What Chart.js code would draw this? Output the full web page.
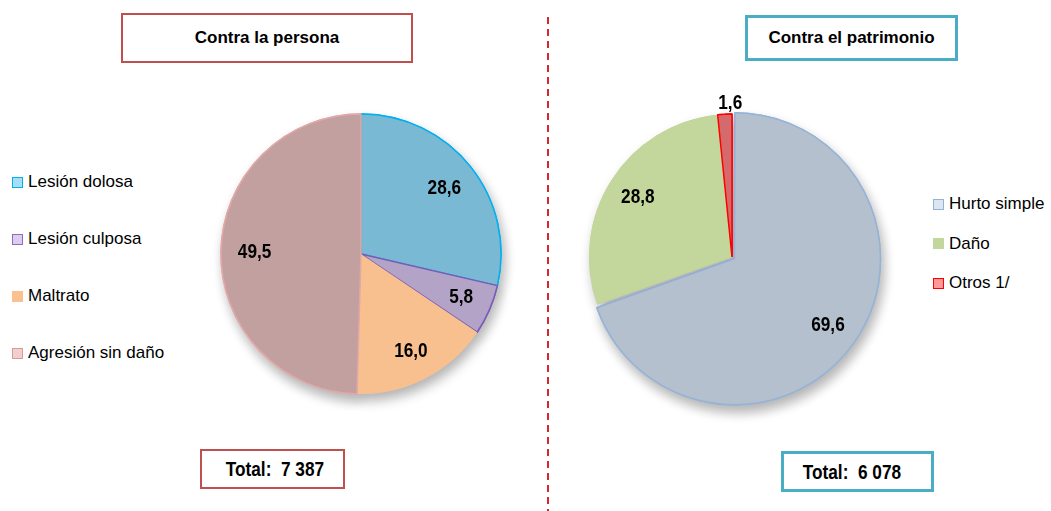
<!DOCTYPE html>
<html>
<head>
<meta charset="utf-8">
<script src="https://cdn.jsdelivr.net/npm/chart.js@4.4.1/dist/chart.umd.min.js"></script>
<style>
  body { margin: 0; width: 1051px; height: 511px; background: #fff; position: relative; overflow: hidden;
         font-family: "Liberation Sans", Arial, sans-serif; color: #000; }
  canvas { position: absolute; }
  .box { position: absolute; box-sizing: border-box; background: #fff; display: flex; align-items: center;
         justify-content: center; font-weight: bold; }
  .title { font-size: 17px; }
  .total { font-size: 21px; white-space: pre; }
  .total span { display: inline-block; transform: scaleX(0.82); }
  .legend { position: absolute; font-size: 17px; }
  .legend div { position: absolute; white-space: nowrap; display: flex; align-items: center; height: 20px; }
  .legend span.mk { display: inline-block; box-sizing: border-box; width: 11px; height: 11px; margin-right: 5px; }
  #divider { position: absolute; left: 547px; top: 17px; width: 2px; height: 494px;
             background: repeating-linear-gradient(to bottom, #d7262e 0 7px, transparent 7px 12px); }
</style>
</head>
<body>
<div class="box title" style="left:121px;top:13px;width:292px;height:50px;border:2px solid #c0504d;">Contra la persona</div>
<div class="box title" style="left:745px;top:15px;width:213px;height:46px;border:3px solid #4bacc6;">Contra el patrimonio</div>
<div class="box total" style="left:200px;top:449px;width:145px;height:40px;border:2px solid #c0504d;"><span id="total1" style="margin-left:4px;"></span></div>
<div class="box total" style="left:781px;top:451px;width:153px;height:41px;border:3px solid #4bacc6;"><span id="total2" style="margin-right:12px;"></span></div>
<div id="divider"></div>
<div class="legend" id="legend1" style="left:12px;top:0;"></div>
<div class="legend" id="legend2" style="left:933px;top:0;"></div>
<canvas id="c1" width="360" height="360" style="left:181px;top:74px;"></canvas>
<canvas id="c2" width="360" height="360" style="left:552px;top:77px;"></canvas>
<script>
// Contra la persona (%)
const personaLabels = ['Lesión dolosa', 'Lesión culposa', 'Maltrato', 'Agresión sin daño'];
const personaValues = [28.6, 5.8, 16.0, 49.5];
const personaTotal = '7 387';

// Contra el patrimonio (%)
const patrimonioLabels = ['Hurto simple', 'Daño', 'Otros 1/'];
const patrimonioValues = [69.6, 28.8, 1.6];
const patrimonioTotal = '6 078';

// slice colours
const personaFill = ['#79b9d3', '#b3a3c6', '#f9c08f', '#c2a0a0'];
const personaBorder = ['#00b0f0', '#7a5cb8', '#f9c08f', '#e3a7a7'];
const personaMarker = ['#a6def3', '#dccdee', '#fac090', '#f2cfce'];
const personaMarkerBorder = ['#00b0f0', '#8e6cc0', null, '#da9a98'];

const patrimonioFill = ['#b5c0ce', '#c3d69b', '#d46a6c'];
const patrimonioBorder = ['#95b3d7', '#c3d69b', '#ff0000'];
const patrimonioMarker = ['#dce6f2', '#c3d69b', '#ff9999'];
const patrimonioMarkerBorder = ['#95b3d7', null, '#ff0000'];

function fmt(v) { return v.toFixed(1).replace('.', ','); }

document.getElementById('total1').textContent = 'Total:  ' + personaTotal;
document.getElementById('total2').textContent = 'Total:  ' + patrimonioTotal;

function buildLegend(id, labels, fills, borders, firstY, step) {
  const el = document.getElementById(id);
  labels.forEach((lab, i) => {
    const row = document.createElement('div');
    row.style.top = (firstY + i * step - 10) + 'px';
    const mk = document.createElement('span');
    mk.className = 'mk';
    mk.style.background = fills[i];
    if (borders[i]) mk.style.border = '1.5px solid ' + borders[i];
    row.appendChild(mk);
    row.appendChild(document.createTextNode(lab));
    el.appendChild(row);
  });
}
buildLegend('legend1', personaLabels, personaMarker, personaMarkerBorder, 182, 57);
buildLegend('legend2', patrimonioLabels, patrimonioMarker, patrimonioMarkerBorder, 204, 39.5);

// shadow under the pie + value labels
const sliceExtras = {
  id: 'sliceExtras',
  beforeDatasetsDraw(chart) {
    const ctx = chart.ctx;
    ctx.save();
    ctx.shadowColor = 'rgba(0,0,0,0.3)';
    ctx.shadowBlur = 12;
    ctx.shadowOffsetX = 3;
    ctx.shadowOffsetY = 7;
    chart.getDatasetMeta(0).data.forEach(a => a.draw(ctx));
    ctx.restore();
  },
  afterDatasetsDraw(chart, args, opts) {
    const ctx = chart.ctx;
    const meta = chart.getDatasetMeta(0);
    const data = chart.data.datasets[0].data;
    ctx.save();
    ctx.font = 'bold 21px "Liberation Sans", sans-serif';
    ctx.textAlign = 'center';
    ctx.textBaseline = 'middle';
    ctx.fillStyle = '#000';
    meta.data.forEach((arc, i) => {
      const p = arc.getProps(['x', 'y', 'startAngle', 'endAngle', 'outerRadius', 'circumference'], true);
      const mid = (p.startAngle + p.endAngle) / 2;
      const off = (arc.options.offset || 0) / 4;
      const fix = 1 - Math.sin(Math.min(Math.PI, p.circumference));
      const r = p.outerRadius * opts.radius[i] + off * (1 + fix);
      ctx.save();
      ctx.translate(p.x + Math.cos(mid) * r + (opts.dx[i] || 0), p.y + Math.sin(mid) * r);
      ctx.scale(0.82, 1);
      ctx.fillText(fmt(data[i]), 0, 0);
      ctx.restore();
    });
    ctx.restore();
  }
};

function pie(id, labels, values, fills, borders, widths, offsets, radius, labelPos, labelDx) {
  return new Chart(document.getElementById(id), {
    type: 'pie',
    data: {
      labels: labels,
      datasets: [{
        data: values,
        backgroundColor: fills,
        borderColor: borders,
        borderWidth: widths,
        offset: offsets,
        radius: radius
      }]
    },
    options: {
      responsive: false,
      animation: false,
      events: [],
      plugins: {
        legend: { display: false },
        tooltip: { enabled: false },
        sliceExtras: { radius: labelPos, dx: labelDx }
      }
    },
    plugins: [sliceExtras]
  });
}

pie('c1', personaLabels, personaValues, personaFill, personaBorder,
    [1.5, 1.5, 0, 1.5], [0, 0, 0, 0], 140, [0.76, 0.78, 0.78, 0.76], [0, 0, 0, 0]);
pie('c2', patrimonioLabels, patrimonioValues, patrimonioFill, patrimonioBorder,
    [1.5, 0, 1.5], [12, 0, 0], 143, [0.78, 0.78, 1.08], [0, 0, 6]);
</script>
</body>
</html>
